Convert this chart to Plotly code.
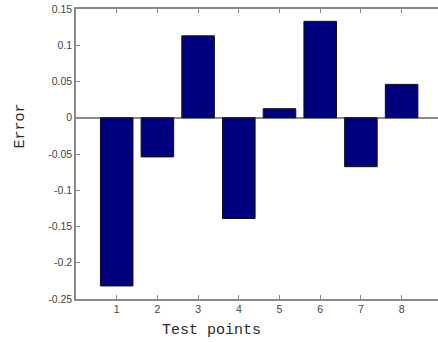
import plotly.graph_objects as go

test_points = [1, 2, 3, 4, 5, 6, 7, 8]
errors = [-0.232, -0.054, 0.113, -0.139, 0.0125, 0.133, -0.0675, 0.046]
y_ticks = [0.15, 0.1, 0.05, 0, -0.05, -0.1, -0.15, -0.2, -0.25]
y_tick_text = ["0.15", "0.1", "0.05", "0", "-0.05", "-0.1", "-0.15", "-0.2", "-0.25"]

fig = go.Figure()
fig.add_trace(go.Bar(
    x=test_points, y=errors, width=0.8,
    marker=dict(color="#00007f", line=dict(color="#101010", width=1)),
    hoverinfo="skip",
))

axis_col = "#8a8a8a"
tick_font = dict(family="Liberation Sans, Arial, sans-serif", size=10.5, color="#444444")

fig.update_layout(
    width=438, height=342,
    margin=dict(l=76, r=0, t=9, b=43),
    paper_bgcolor="white", plot_bgcolor="white",
    showlegend=False,
    hovermode=False,
    xaxis=dict(
        range=[0, 8.894], tickvals=test_points, ticktext=[str(t) for t in test_points],
        showline=True, linecolor=axis_col, linewidth=1.5, mirror="ticks",
        ticks="inside", ticklen=4, tickcolor=axis_col, tickwidth=1,
        showgrid=False, zeroline=False, tickfont=tick_font,
    ),
    yaxis=dict(
        range=[-0.25, 0.15], tickvals=y_ticks, ticktext=y_tick_text,
        showline=True, linecolor=axis_col, linewidth=1.5, mirror=False,
        ticks="inside", ticklen=4, tickcolor=axis_col, tickwidth=1,
        showgrid=False, zeroline=True, zerolinecolor=axis_col, zerolinewidth=1.5,
        tickfont=tick_font,
    ),
    annotations=[
        dict(text="Test points", xref="x", x=3.32, yref="paper", y=-0.11,
             xanchor="center", yanchor="middle", showarrow=False,
             font=dict(family="Liberation Mono, Courier New, monospace", size=15, color="#2a2a2a")),
        dict(text="Error", xref="paper", x=-0.153, yref="paper", y=0.597,
             xanchor="center", yanchor="middle", showarrow=False, textangle=-90,
             font=dict(family="Liberation Mono, Courier New, monospace", size=15, color="#2a2a2a")),
    ],
)

fig.write_html("out.html", config={"displayModeBar": False},
               post_script="document.body.style.margin='0';")
